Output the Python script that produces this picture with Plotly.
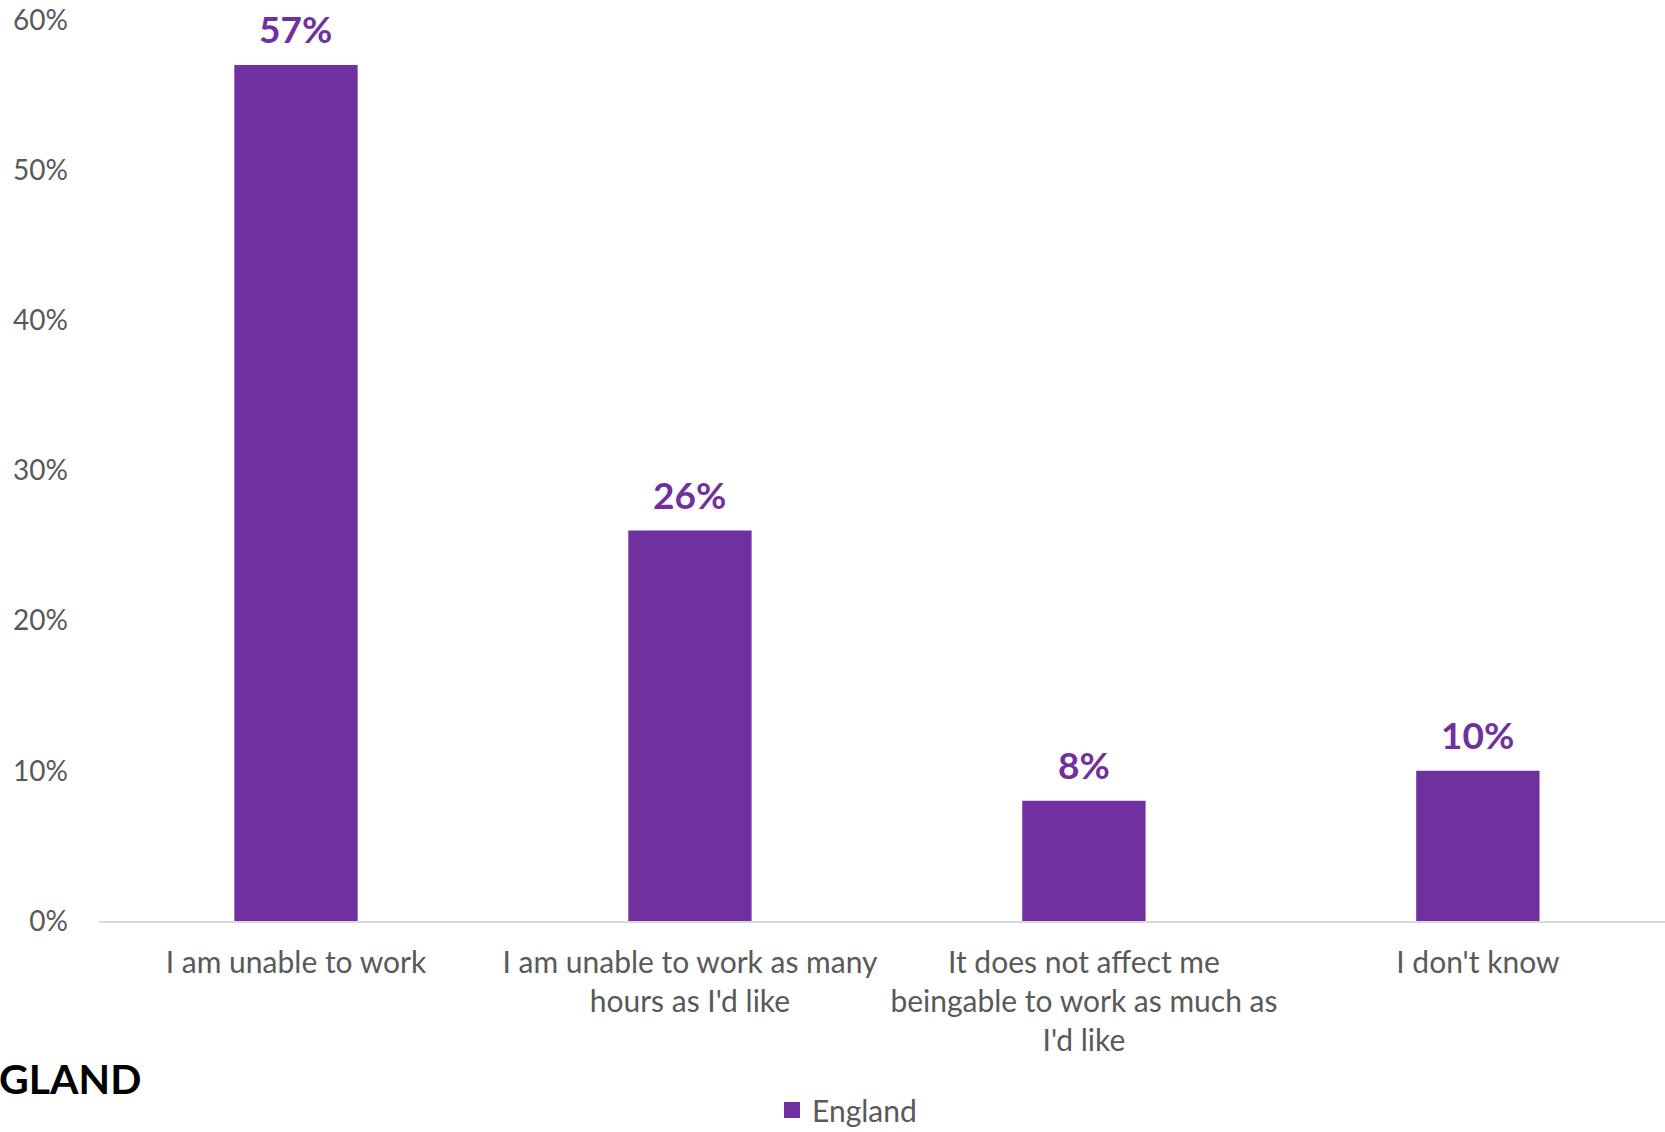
import plotly.graph_objects as go

# Survey responses: how the condition affects ability to work (England)
categories = [
    "I am unable to work",
    "I am unable to work as many<br>hours as I'd like",
    "It does not affect me<br>beingable to work as much as<br>I'd like",
    "I don't know",
]
england = [0.57, 0.26, 0.08, 0.10]
series_name = "England"
y_ticks = [0, 0.1, 0.2, 0.3, 0.4, 0.5, 0.6]

PURPLE = "#7030A0"
GREY = "#595959"
FONT = "Lato"

W, H = 1665, 1132
L, R, T, B = 99, 0, 20, 211
pw, ph = W - L - R, H - T - B


def px_x(x):
    return (x - L) / pw


def px_y(y):
    return (H - B - y) / ph


fig = go.Figure()
fig.add_trace(go.Bar(
    x=categories,
    y=england,
    name=series_name,
    marker=dict(color=PURPLE, line=dict(width=0)),
    showlegend=False,
))
# legend entry with a larger square swatch
fig.add_trace(go.Scatter(
    x=[None], y=[None],
    mode="markers",
    name=series_name,
    marker=dict(symbol="square", size=18, color=PURPLE),
    showlegend=True,
))

# value labels above each bar
for cat, val in zip(categories, england):
    fig.add_annotation(
        x=cat, y=val, xref="x", yref="y",
        text=f"{val:.0%}",
        showarrow=False,
        yanchor="bottom",
        yshift=12,
        font=dict(family=FONT, size=37, color=PURPLE, weight="bold"),
    )

# section heading at the lower left
fig.add_annotation(
    x=px_x(-3), y=px_y(1078), xref="paper", yref="paper",
    text="GLAND",
    showarrow=False,
    xanchor="left", yanchor="middle",
    font=dict(family=FONT, size=41, color="#000000", weight="bold"),
)

fig.update_layout(
    width=W, height=H,
    margin=dict(l=L, r=R, t=T, b=B, pad=0, autoexpand=False),
    paper_bgcolor="white",
    plot_bgcolor="white",
    bargap=0.687,
    font=dict(family=FONT, size=28, color=GREY),
    showlegend=True,
    legend=dict(
        orientation="h",
        x=px_x(847), xanchor="center",
        y=px_y(1110), yanchor="middle",
        font=dict(family=FONT, size=30, color=GREY),
        itemwidth=30,
    ),
    xaxis=dict(
        range=[-0.5, 3.475],
        showgrid=False,
        showline=True, linecolor="#D9D9D9", linewidth=2,
        ticks="", ticklabelstandoff=14,
        tickfont=dict(family=FONT, size=30, color=GREY),
    ),
    yaxis=dict(
        range=[0, 0.6],
        tickvals=y_ticks,
        tickformat=".0%",
        showgrid=False, zeroline=False, showline=False,
        ticks="", ticklabelstandoff=30,
        tickfont=dict(family=FONT, size=28, color=GREY),
    ),
)

fig.write_html("out.html")
